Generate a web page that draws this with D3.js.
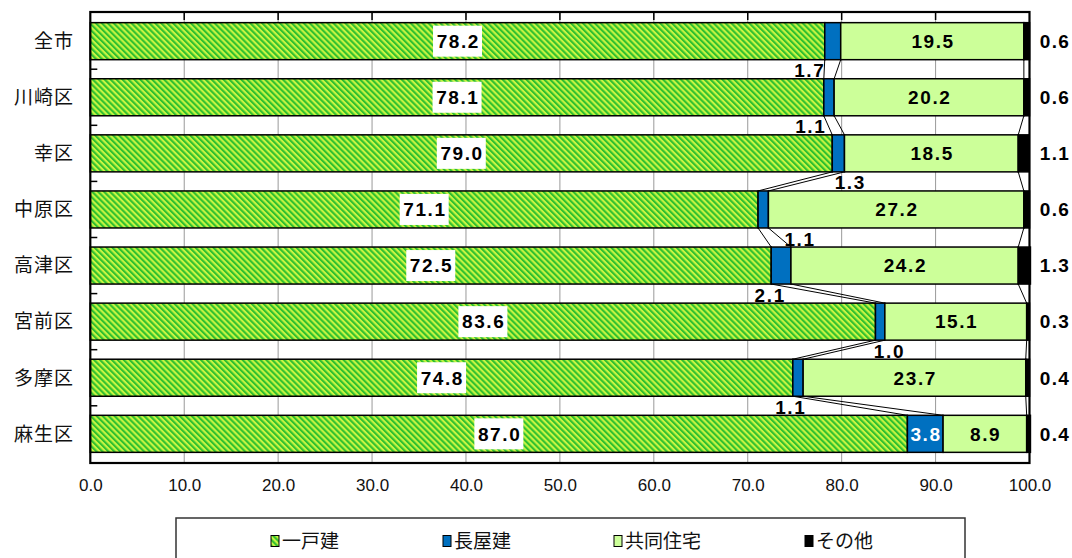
<!DOCTYPE html>
<html lang="ja">
<head>
<meta charset="utf-8">
<script src="https://cdn.jsdelivr.net/npm/d3@7"></script>
<style>
  html, body { margin: 0; padding: 0; background: #fff; }
  svg { display: block; }
</style>
</head>
<body>
<svg id="chart" width="1072" height="558"></svg>
<script>
// Housing type shares (%) by ward
const categories = ["全市", "川崎区", "幸区", "中原区", "高津区", "宮前区", "多摩区", "麻生区"];
const detached   = [78.2, 78.1, 79.0, 71.1, 72.5, 83.6, 74.8, 87.0];
const rowHouse   = [1.7, 1.1, 1.3, 1.1, 2.1, 1.0, 1.1, 3.8];
const apartment  = [19.5, 20.2, 18.5, 27.2, 24.2, 15.1, 23.7, 8.9];
const other      = [0.6, 0.6, 1.1, 0.6, 1.3, 0.3, 0.4, 0.4];
const seriesNames = ["一戸建", "長屋建", "共同住宅", "その他"];
const xTicks = [0, 10, 20, 30, 40, 50, 60, 70, 80, 90, 100];

// Horizontal nudge (px) for the small 長屋建 labels placed in the gap below each bar
const rowHouseLabelDx = [-15, -13, 18, 42, -1, 14, -2, 0];

const svg = d3.select("#chart");
const plot = { left: 90.3, right: 1029.5, top: 12, bottom: 463 };

const keys = ["detached", "rowHouse", "apartment", "other"];
const rows = categories.map((c, i) => ({
  cat: c, detached: detached[i], rowHouse: rowHouse[i], apartment: apartment[i], other: other[i]
}));
const stacked = d3.stack().keys(keys)(rows);

const x = d3.scaleLinear().domain([0, 100]).range([plot.left, plot.right]);
const y = d3.scaleBand().domain(categories).range([plot.top, plot.bottom])
  .paddingInner(0.34).paddingOuter(0.19);
const bw = y.bandwidth();
const gap = y.step() - bw;

const colors = { detached: "url(#hatch)", rowHouse: "#0070C0", apartment: "#CCFF99", other: "#000000" };

// diagonal hatch for 一戸建
const defs = svg.append("defs");
const pat = defs.append("pattern").attr("id", "hatch")
  .attr("patternUnits", "userSpaceOnUse").attr("width", 4.2).attr("height", 4.2)
  .attr("patternTransform", "rotate(-45)");
pat.append("rect").attr("width", 4.2).attr("height", 4.2).attr("fill", "#C8F542");
pat.append("rect").attr("width", 2.1).attr("height", 4.2).attr("fill", "#30C030");

// gridlines
svg.append("g").selectAll("line").data(xTicks.slice(1, -1)).join("line")
  .attr("x1", d => x(d)).attr("x2", d => x(d))
  .attr("y1", plot.top).attr("y2", plot.bottom)
  .attr("stroke", "#999").attr("stroke-width", 1);

// bars
const gBars = svg.append("g");
stacked.forEach(layer => {
  gBars.append("g").selectAll("rect").data(layer).join("rect")
    .attr("x", d => x(d[0]))
    .attr("y", d => y(d.data.cat))
    .attr("width", d => Math.max(0, x(d[1]) - x(d[0])))
    .attr("height", bw)
    .attr("fill", colors[layer.key])
    .attr("stroke", "#000").attr("stroke-width", 1.5);
});

// series lines joining segment boundaries of neighbouring bars
const gSeries = svg.append("g");
stacked.slice(0, 3).forEach(layer => {
  for (let i = 0; i < layer.length - 1; i++) {
    const a = layer[i], b = layer[i + 1];
    gSeries.append("line")
      .attr("x1", x(a[1])).attr("y1", y(a.data.cat) + bw)
      .attr("x2", x(b[1])).attr("y2", y(b.data.cat))
      .attr("stroke", "#000").attr("stroke-width", 1);
  }
});

// frame
svg.append("rect").attr("x", plot.left).attr("y", plot.top)
  .attr("width", plot.right - plot.left).attr("height", plot.bottom - plot.top)
  .attr("fill", "none").attr("stroke", "#000").attr("stroke-width", 2.2);

// inward ticks along the top edge
svg.append("g").selectAll("line").data(xTicks.slice(1, -1)).join("line")
  .attr("x1", d => x(d)).attr("x2", d => x(d))
  .attr("y1", plot.top).attr("y2", plot.top + 8)
  .attr("stroke", "#000").attr("stroke-width", 1.5);

// category ticks between bars on the left edge
svg.append("g").selectAll("line").data(categories.slice(1)).join("line")
  .attr("x1", plot.left).attr("x2", plot.left + 7)
  .attr("y1", d => y(d) - gap / 2).attr("y2", d => y(d) - gap / 2)
  .attr("stroke", "#000").attr("stroke-width", 1.5);

// x axis labels
const xAxis = d3.axisBottom(x).tickValues(xTicks).tickFormat(d3.format(".1f")).tickSize(0).tickPadding(0);
const gx = svg.append("g").attr("transform", `translate(0,${plot.bottom + 16})`).call(xAxis);
gx.select(".domain").remove();
gx.selectAll("text").attr("font-family", "'Liberation Sans', Arial, sans-serif")
  .attr("font-size", 17).attr("fill", "#111");

// category labels
svg.append("g").selectAll("text").data(categories).join("text")
  .attr("x", 74).attr("y", d => y(d) + bw / 2)
  .attr("dy", "0.36em").attr("text-anchor", "end")
  .attr("font-family", "'Noto Sans CJK JP', sans-serif").attr("font-size", 19)
  .attr("letter-spacing", 1).attr("fill", "#111")
  .text(d => d);

const valueFont = "'Liberation Sans', Arial, sans-serif";
const fmt = d3.format(".1f");

// 一戸建 values on white boxes
const gDet = svg.append("g");
stacked[0].forEach(d => {
  const cx = (x(d[0]) + x(d[1])) / 2, cy = y(d.data.cat) + bw / 2;
  gDet.append("rect").attr("x", cx - 24.5).attr("y", cy - 15.5)
    .attr("width", 49).attr("height", 31).attr("fill", "#fff");
  gDet.append("text").attr("x", cx + 0.8).attr("y", cy).attr("dy", "0.36em")
    .attr("text-anchor", "middle").attr("font-family", valueFont).attr("font-weight", "bold")
    .attr("font-size", 19).attr("letter-spacing", 1.6).attr("fill", "#000")
    .text(fmt(d[1] - d[0]));
});

// 長屋建 values
stacked[1].forEach((d, i) => {
  const v = d[1] - d[0];
  if (v >= 3) {
    svg.append("text").attr("x", (x(d[0]) + x(d[1])) / 2 + 0.8).attr("y", y(d.data.cat) + bw / 2)
      .attr("dy", "0.36em").attr("text-anchor", "middle")
      .attr("font-family", valueFont).attr("font-weight", "bold").attr("font-size", 19)
      .attr("letter-spacing", 1.6).attr("fill", "#fff").text(fmt(v));
  } else {
    svg.append("text").attr("x", x(d[0]) + rowHouseLabelDx[i])
      .attr("y", y(d.data.cat) + bw + gap - 1.5)
      .attr("text-anchor", "middle")
      .attr("font-family", valueFont).attr("font-weight", "bold").attr("font-size", 19)
      .attr("letter-spacing", 1.6).attr("fill", "#000").text(fmt(v));
  }
});

// 共同住宅 values
svg.append("g").selectAll("text").data(stacked[2]).join("text")
  .attr("x", d => (x(d[0]) + x(d[1])) / 2 + 0.8).attr("y", d => y(d.data.cat) + bw / 2)
  .attr("dy", "0.36em").attr("text-anchor", "middle")
  .attr("font-family", valueFont).attr("font-weight", "bold").attr("font-size", 19)
  .attr("letter-spacing", 1.6).attr("fill", "#000")
  .text(d => fmt(d[1] - d[0]));

// その他 values to the right of the plot
svg.append("g").selectAll("text").data(stacked[3]).join("text")
  .attr("x", 1055).attr("y", d => y(d.data.cat) + bw / 2)
  .attr("dy", "0.36em").attr("text-anchor", "middle")
  .attr("font-family", valueFont).attr("font-weight", "bold").attr("font-size", 19)
  .attr("letter-spacing", 1.4).attr("fill", "#000")
  .text(d => fmt(d[1] - d[0]));

// legend
const lg = svg.append("g");
lg.append("rect").attr("x", 176).attr("y", 518).attr("width", 789).attr("height", 60)
  .attr("fill", "#fff").attr("stroke", "#333").attr("stroke-width", 1.5);
const legendX = [271, 443, 614, 805];
seriesNames.forEach((name, i) => {
  const g = lg.append("g").attr("transform", `translate(${legendX[i]},541)`);
  g.append("rect").attr("x", 0).attr("y", -5.5).attr("width", 8).attr("height", 11)
    .attr("fill", colors[keys[i]]).attr("stroke", "#000").attr("stroke-width", 1);
  g.append("text").attr("x", 11).attr("y", 0).attr("dy", "0.36em")
    .attr("font-family", "'Noto Sans CJK JP', sans-serif").attr("font-size", 19)
    .attr("fill", "#111").text(name);
});
</script>
</body>
</html>
